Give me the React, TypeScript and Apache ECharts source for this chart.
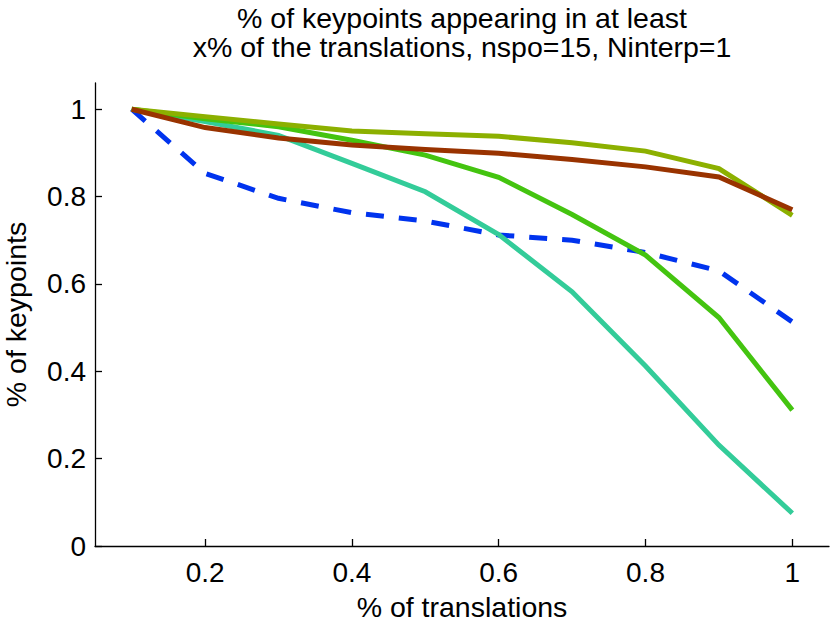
import React, { useEffect, useRef } from "react";
import * as echarts from "echarts";

const xValues = [0.1, 0.2, 0.3, 0.4, 0.5, 0.6, 0.7, 0.8, 0.9, 1.0];
const blueDashed = [1.0, 0.853, 0.796, 0.763, 0.744, 0.712, 0.7, 0.672, 0.63, 0.513];
const teal = [1.0, 0.972, 0.94, 0.876, 0.811, 0.713, 0.582, 0.412, 0.231, 0.075];
const green = [1.0, 0.978, 0.96, 0.929, 0.895, 0.844, 0.759, 0.666, 0.523, 0.311];
const olive = [1.0, 0.983, 0.966, 0.95, 0.944, 0.938, 0.923, 0.904, 0.864, 0.757];
const brown = [1.0, 0.958, 0.934, 0.918, 0.908, 0.899, 0.885, 0.868, 0.845, 0.77];
const xTicks = [0.2, 0.4, 0.6, 0.8, 1];
const yTicks = [0, 0.2, 0.4, 0.6, 0.8, 1];

const FONT = "'Liberation Sans', Arial, Helvetica, sans-serif";

const pairs = (ys: number[]) => xValues.map((x, i) => [x, ys[i]]);

export default function App() {
  const ref = useRef<HTMLDivElement>(null);
  useEffect(() => {
    document.body.style.margin = "0";
    const chart = echarts.init(ref.current!, null, { renderer: "svg" });
    const mk = (name: string, ys: number[], color: string, dashed = false) => ({
      name,
      type: "line",
      data: pairs(ys),
      showSymbol: false,
      symbol: "none",
      lineStyle: {
        color,
        width: 5,
        type: dashed ? [18, 15] : "solid",
        cap: "butt",
        join: "miter",
      },
      z: 2,
    });
    chart.setOption({
      animation: false,
      backgroundColor: "#ffffff",
      textStyle: { fontFamily: FONT },
      title: {
        text: "% of keypoints appearing in at least\nx% of the translations, nspo=15, Ninterp=1",
        left: 462,
        top: 3,
        padding: 0,
        textAlign: "center",
        textStyle: {
          fontFamily: FONT,
          fontSize: 28.5,
          lineHeight: 29.4,
          fontWeight: "normal",
          color: "#000",
        },
      },
      grid: { left: 95, right: 1, top: 83, bottom: 80, containLabel: false, outerBoundsMode: "none" },
      xAxis: {
        type: "value",
        min: 0.05,
        max: 1.05,
        name: "% of translations",
        nameLocation: "middle",
        nameGap: 46,
        nameTextStyle: { fontFamily: FONT, fontSize: 28.5, color: "#000" },
        axisLine: { show: true, onZero: false, lineStyle: { color: "#000", width: 1.3 } },
        axisTick: { show: true, inside: true, length: 7, customValues: xTicks, lineStyle: { color: "#000", width: 1.3 } },
        axisLabel: {
          customValues: xTicks,
          margin: 12,
          fontFamily: FONT,
          fontSize: 28,
          color: "#000",
          formatter: (v: number) => String(v),
        },
        splitLine: { show: false },
      },
      yAxis: {
        type: "value",
        min: 0,
        max: 1.06,
        name: "% of keypoints",
        nameLocation: "middle",
        nameGap: 65,
        nameTextStyle: { fontFamily: FONT, fontSize: 28.5, color: "#000" },
        axisLine: { show: true, onZero: false, lineStyle: { color: "#000", width: 1.3 } },
        axisTick: { show: true, inside: true, length: 7, customValues: yTicks, lineStyle: { color: "#000", width: 1.3 } },
        axisLabel: {
          customValues: yTicks,
          margin: 9,
          fontFamily: FONT,
          fontSize: 28,
          color: "#000",
          formatter: (v: number) => String(v),
        },
        splitLine: { show: false },
      },
      series: [
        mk("blue", blueDashed, "#0033EE", true),
        mk("teal", teal, "#33CC99"),
        mk("green", green, "#44C410"),
        mk("olive", olive, "#8CB000"),
        mk("brown", brown, "#993300"),
      ],
    });
    return () => chart.dispose();
  }, []);
  return <div ref={ref} style={{ width: 830, height: 626 }} />;
}
